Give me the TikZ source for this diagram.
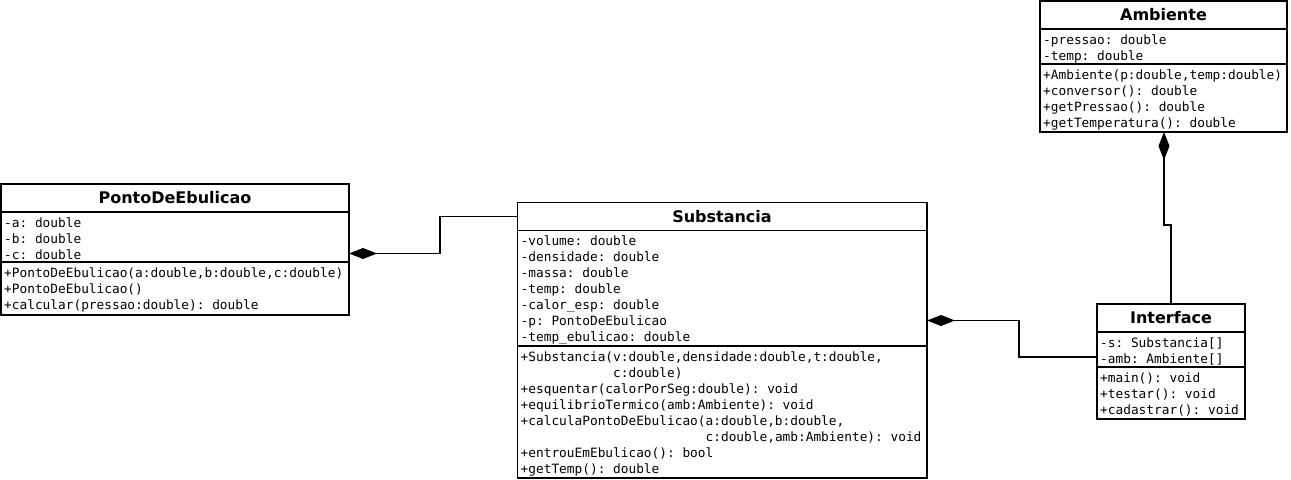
\documentclass[tikz,border=0pt]{standalone}
\usepackage{fontspec}
\setmainfont{DejaVu Sans}
\setmonofont{DejaVu Sans Mono}
\usetikzlibrary{arrows.meta}
\begin{document}
\begin{tikzpicture}[x=1bp,y=-1bp,
  cls/.style={draw, line width=1.8bp, inner sep=0pt, outer sep=0pt, anchor=north west},
  sepline/.style={line width=1.8bp},
  ttl/.style={font=\fontsize{16bp}{18bp}\selectfont\bfseries, anchor=base, inner sep=0pt},
  txt/.style={font=\ttfamily\fontsize{12.8bp}{16bp}\selectfont, anchor=base west, inner sep=0pt},
  con/.style={line width=1.8bp, line join=miter},
  comp/.style={-{Diamond[length=28bp,width=11bp]}}
]
\useasboundingbox (0,0) rectangle (1291,480);

% ---------- PontoDeEbulicao ----------
\node[cls, minimum width=348bp, minimum height=131bp] (pde) at (1,184) {};
\node[ttl] (pdeT) at (175,204) {PontoDeEbulicao};
\draw[sepline] ([yshift=-28bp]pde.north west) -- ([yshift=-28bp]pde.north east);
\draw[sepline] ([yshift=-78bp]pde.north west) -- ([yshift=-78bp]pde.north east);
\foreach \t [count=\i from 0] in {{-a: double},{-b: double},{-c: double}}
  \node[txt] (pdeA\i) at (4,{227.5+16*\i}) {\t};
\foreach \t [count=\i from 0] in {{+PontoDeEbulicao(a:double,b:double,c:double)},{+PontoDeEbulicao()},{+calcular(pressao:double): double}}
  \node[txt] (pdeM\i) at (4,{277.5+16*\i}) {\t};

% ---------- Substancia ----------
\node[cls, minimum width=409.5bp, minimum height=275.5bp] (sub) at (517.5,202.5) {};
\node[ttl] (subT) at (722,222.5) {Substancia};
\draw[sepline] ([yshift=-28bp]sub.north west) -- ([yshift=-28bp]sub.north east);
\draw[sepline] ([yshift=-143.5bp]sub.north west) -- ([yshift=-143.5bp]sub.north east);
\foreach \t [count=\i from 0] in {{-volume: double},{-densidade: double},{-massa: double},{-temp: double},{-calor\_esp: double},{-p: PontoDeEbulicao},{-temp\_ebulicao: double}}
  \node[txt] (subA\i) at (520.5,{246+16*\i}) {\t};
\foreach \t [count=\i from 0] in {{+Substancia(v:double,densidade:double,t:double,},{\phantom{+Substancia(}c:double)},{+esquentar(calorPorSeg:double): void},{+equilibrioTermico(amb:Ambiente): void},{+calculaPontoDeEbulicao(a:double,b:double,},{\phantom{+calculaPontoDeEbulicao(}c:double,amb:Ambiente): void},{+entrouEmEbulicao(): bool},{+getTemp(): double}}
  \node[txt] (subM\i) at (520.5,{361.5+16*\i}) {\t};

% ---------- Ambiente ----------
\node[cls, minimum width=247bp, minimum height=131bp] (amb) at (1040,1) {};
\node[ttl] (ambT) at (1163.5,21) {Ambiente};
\draw[sepline] ([yshift=-28bp]amb.north west) -- ([yshift=-28bp]amb.north east);
\draw[sepline] ([yshift=-63bp]amb.north west) -- ([yshift=-63bp]amb.north east);
\foreach \t [count=\i from 0] in {{-pressao: double},{-temp: double}}
  \node[txt] (ambA\i) at (1043,{44.5+16*\i}) {\t};
\foreach \t [count=\i from 0] in {{+Ambiente(p:double,temp:double)},{+conversor(): double},{+getPressao(): double},{+getTemperatura(): double}}
  \node[txt] (ambM\i) at (1043,{79.5+16*\i}) {\t};

% ---------- Interface ----------
\node[cls, minimum width=148bp, minimum height=115bp] (int) at (1097,304) {};
\node[ttl] (intT) at (1171,324) {Interface};
\draw[sepline] ([yshift=-28bp]int.north west) -- ([yshift=-28bp]int.north east);
\draw[sepline] ([yshift=-63bp]int.north west) -- ([yshift=-63bp]int.north east);
\foreach \t [count=\i from 0] in {{-s: Substancia[]},{-amb: Ambiente[]}}
  \node[txt] (intA\i) at (1100,{347.5+16*\i}) {\t};
\foreach \t [count=\i from 0] in {{+main(): void},{+testar(): void},{+cadastrar(): void}}
  \node[txt] (intM\i) at (1100,{382.5+16*\i}) {\t};

% ---------- Connectors ----------
\draw[con, comp] ([yshift=-14bp]sub.north west) -- ++(-77.5,0) |- ([yshift=-69.5bp]pde.north east);
\draw[con, comp] ([yshift=-53bp]int.north west) -- ++(-78,0) |- ([yshift=-118bp]sub.north east);
\draw[con, comp] ([xshift=74bp]int.north west) -- ++(0,-79) -| ([xshift=124bp]amb.south west);
\end{tikzpicture}
\end{document}
